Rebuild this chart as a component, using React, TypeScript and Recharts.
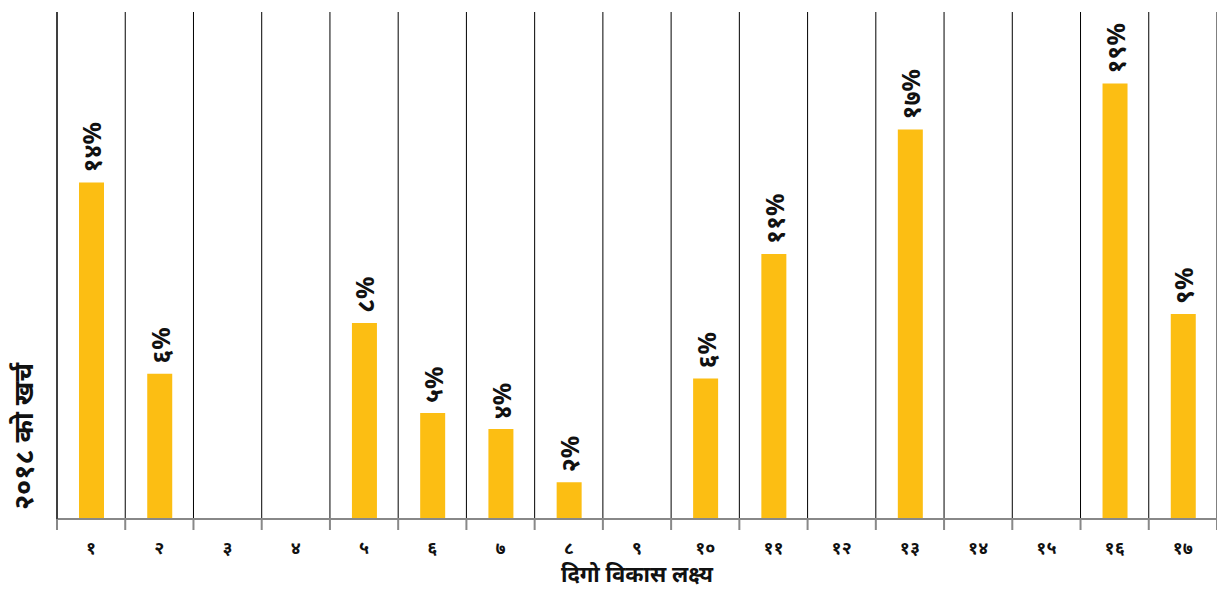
import React from 'react';
import { BarChart, Bar, XAxis, YAxis, CartesianGrid, LabelList } from 'recharts';

// SDG number (Devanagari), 2018 spending share and its printed label
const goals = ['१', '२', '३', '४', '५', '६', '७', '८', '९', '१०', '११', '१२', '१३', '१४', '१५', '१६', '१७'];
const spend = [14.6, 6.3, 0, 0, 8.5, 4.6, 3.9, 1.6, 0, 6.1, 11.5, 0, 16.9, 0, 0, 18.9, 8.9];
const spendLabels = ['१४%', '६%', '', '', '८%', '५%', '४%', '२%', '', '६%', '११%', '', '१७%', '', '', '१९%', '९%'];
// category edges (tick marks + grid) and category centres (labels)
const edgeTicks = [0, 1, 2, 3, 4, 5, 6, 7, 8, 9, 10, 11, 12, 13, 14, 15, 16, 17];
const allTicks = edgeTicks.flatMap((t) => (t < goals.length ? [t, t + 0.5] : [t]));

const data = goals.map((g, i) => ({ goal: g, pos: i + 0.5, spend: spend[i], label: spendLabels[i] }));

const FONT = '"Noto Sans", sans-serif';

const GoalTick = (props: any) => {
  const { x, y, payload } = props;
  const v = payload.value;
  if (Number.isInteger(v)) {
    return <line x1={x} y1={y} x2={x} y2={y + 11} stroke="#888" strokeWidth={2} />;
  }
  return (
    <text x={x} y={y + 28} textAnchor="middle" dominantBaseline="central" fontFamily={FONT} fontWeight={700} fontSize={18} fill="#111">
      {goals[Math.floor(v)]}
    </text>
  );
};

const BarLabel = (props: any) => {
  const { x, y, width, value } = props;
  if (!value) return null;
  const cx = x + width / 2;
  const cy = y - 10;
  return (
    <text
      x={cx}
      y={cy}
      transform={`rotate(-90 ${cx} ${cy})`}
      textAnchor="start"
      dominantBaseline="central"
      fontFamily={FONT}
      fontWeight={700}
      fontSize={25}
      fill="#111"
    >
      {value}
    </text>
  );
};

const YTitle = (props: any) => {
  const vb = props.viewBox;
  const x = vb.x + 22;
  const y = vb.y + vb.height - 9;
  return (
    <text
      x={x}
      y={y}
      transform={`rotate(-90 ${x} ${y})`}
      textAnchor="start"
      dominantBaseline="central"
      fontFamily={FONT}
      fontWeight={700}
      fontSize={27}
      fill="#111"
    >
      २०१८ को खर्च
    </text>
  );
};

export default function App() {
  return (
    <div style={{ position: 'absolute', left: 0, top: 0, background: '#fff' }}>
      <BarChart width={1217} height={589} data={data} margin={{ top: 12, right: 0, bottom: 0, left: 0 }}>
        <CartesianGrid horizontal={false} verticalValues={edgeTicks} stroke="#000" strokeWidth={1} />
        <XAxis
          dataKey="pos"
          type="number"
          domain={[0, 17]}
          ticks={allTicks}
          interval={0}
          tick={<GoalTick />}
          tickLine={false}
          tickSize={0}
          tickMargin={0}
          axisLine={{ stroke: '#888', strokeWidth: 2 }}
          height={70}
          label={{
            value: 'दिगो विकास लक्ष्य',
            position: 'insideBottom',
            offset: 7,
            fontFamily: FONT,
            fontWeight: 700,
            fontSize: 22,
            fill: '#111',
          }}
        />
        <YAxis
          domain={[0, 22]}
          width={57}
          tick={false}
          tickLine={false}
          axisLine={{ stroke: '#000', strokeWidth: 1 }}
          label={<YTitle />}
        />
        <Bar dataKey="spend" fill="#FCBE13" barSize={25} isAnimationActive={false}>
          <LabelList dataKey="label" content={<BarLabel />} />
        </Bar>
      </BarChart>
    </div>
  );
}
